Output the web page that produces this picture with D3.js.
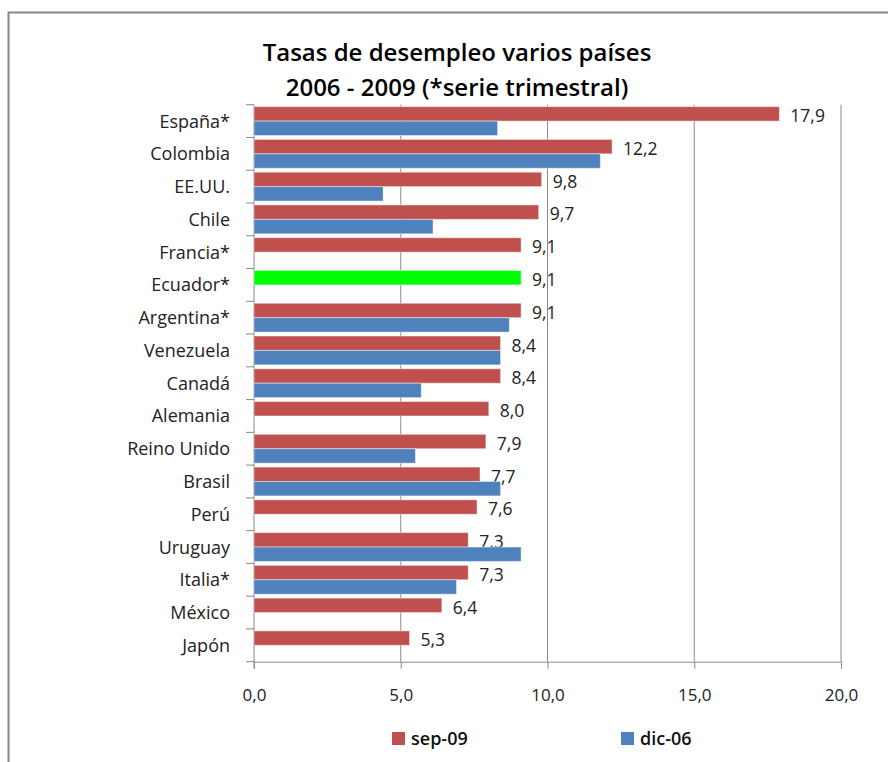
<!DOCTYPE html>
<html>
<head>
<meta charset="utf-8">
<script src="https://cdn.jsdelivr.net/npm/d3@7"></script>
<style>
  body { margin: 0; background: #fff; }
  svg { display: block; font-family: "Open Sans", sans-serif; }
</style>
</head>
<body>
<svg id="chart" width="888" height="762"></svg>
<script>
const categories = ["España*", "Colombia", "EE.UU.", "Chile", "Francia*", "Ecuador*", "Argentina*",
  "Venezuela", "Canadá", "Alemania", "Reino Unido", "Brasil", "Perú", "Uruguay", "Italia*", "México", "Japón"];
const sep09 = [17.9, 12.2, 9.8, 9.7, 9.1, 9.1, 9.1, 8.4, 8.4, 8.0, 7.9, 7.7, 7.6, 7.3, 7.3, 6.4, 5.3];
const dic06 = [8.3, 11.8, 4.4, 6.1, null, null, 8.7, 8.4, 5.7, null, 5.5, 8.4, null, 9.1, 6.9, null, null];
const seriesNames = ["sep-09", "dic-06"];
const xTicks = [0, 5, 10, 15, 20];
const highlighted = "Ecuador*";

const colors = { "sep-09": "#C0504D", "dic-06": "#4F81BD" };
const gridColor = "#8a8a8a";

const locale = d3.formatLocale({ decimal: ",", thousands: ".", grouping: [3], currency: ["", ""] });
const fmt = locale.format(".1f");

const svg = d3.select("#chart");
const plot = { left: 254, right: 841, top: 104.7, bottom: 661.7 };

// outer frame (top and left edges visible)
svg.append("path")
  .attr("d", "M8.5,762 V12.5 H888")
  .attr("fill", "none")
  .attr("stroke", "#868686")
  .attr("stroke-width", 2);

// title
const title = svg.append("text")
  .attr("text-anchor", "middle")
  .attr("font-size", 24)
  .attr("font-weight", 600)
  .attr("fill", "#000");
title.append("tspan").attr("x", 457).attr("y", 61).text("Tasas de desempleo varios países");
title.append("tspan").attr("x", 457).attr("y", 96).text("2006 - 2009 (*serie trimestral)");

const x = d3.scaleLinear().domain([0, 20]).range([plot.left, plot.right]);
const y = d3.scaleBand().domain(categories).range([plot.top, plot.bottom])
  .paddingInner(0.12).paddingOuter(0.06);
const ySub = d3.scaleBand().domain(seriesNames).range([0, y.bandwidth()]);

const rows = categories.map((c, i) => ({ cat: c, "sep-09": sep09[i], "dic-06": dic06[i] }));

// vertical gridlines
svg.append("g")
  .selectAll("line")
  .data(xTicks.slice(1))
  .join("line")
  .attr("x1", d => x(d)).attr("x2", d => x(d))
  .attr("y1", plot.top).attr("y2", plot.bottom)
  .attr("stroke", gridColor).attr("stroke-width", 1);

// x axis
const xAxis = svg.append("g")
  .attr("transform", `translate(0,${plot.bottom})`)
  .call(d3.axisBottom(x).tickValues(xTicks).tickFormat(fmt).tickSize(7).tickPadding(20));
xAxis.select(".domain").attr("stroke", gridColor);
xAxis.selectAll(".tick line").attr("stroke", gridColor);
xAxis.selectAll(".tick text")
  .attr("font-family", "Open Sans, sans-serif")
  .attr("font-size", 17).attr("fill", "#222");

// y axis: line, ticks at category boundaries
const step = y.step();
const boundaries = d3.range(categories.length + 1).map(i => plot.top + i * step);
svg.append("line")
  .attr("x1", plot.left).attr("x2", plot.left)
  .attr("y1", plot.top).attr("y2", plot.bottom + 7)
  .attr("stroke", gridColor);
svg.append("g")
  .selectAll("line")
  .data(boundaries)
  .join("line")
  .attr("x1", plot.left - 8).attr("x2", plot.left)
  .attr("y1", d => d).attr("y2", d => d)
  .attr("stroke", gridColor);

svg.append("g")
  .selectAll("text")
  .data(categories)
  .join("text")
  .attr("x", 230)
  .attr("y", d => y(d) + y.bandwidth() / 2)
  .attr("dy", "0.36em")
  .attr("text-anchor", "end")
  .attr("font-size", 18)
  .attr("fill", "#222")
  .text(d => d);

// value labels for sep-09 (drawn below bars, as in the original)
svg.append("g")
  .selectAll("text")
  .data(rows)
  .join("text")
  .attr("x", d => x(d["sep-09"]) + 11)
  .attr("y", d => y(d.cat) + ySub("sep-09") + ySub.bandwidth() / 2 + 2)
  .attr("dy", "0.36em")
  .attr("font-size", 17.5)
  .attr("fill", "#222")
  .text(d => fmt(d["sep-09"]));

// bars
seriesNames.forEach(s => {
  svg.append("g")
    .selectAll("rect")
    .data(rows.filter(d => d[s] != null))
    .join("rect")
    .attr("x", x(0))
    .attr("y", d => y(d.cat) + ySub(s))
    .attr("width", d => x(d[s]) - x(0))
    .attr("height", ySub.bandwidth())
    .attr("fill", d => (d.cat === highlighted && s === "sep-09") ? "#00FF00" : colors[s])
    .attr("stroke", "#fff")
    .attr("stroke-opacity", 0.45)
    .attr("stroke-width", 1);
});

// legend
const legend = svg.append("g");
const legendX = [392, 621];
seriesNames.forEach((s, i) => {
  legend.append("rect")
    .attr("x", legendX[i]).attr("y", 732)
    .attr("width", 13).attr("height", 13)
    .attr("fill", colors[s]);
  legend.append("text")
    .attr("x", legendX[i] + 19).attr("y", 739)
    .attr("dy", "0.36em")
    .attr("font-size", 18).attr("font-weight", 600)
    .attr("fill", "#111")
    .text(s);
});
</script>
</body>
</html>
